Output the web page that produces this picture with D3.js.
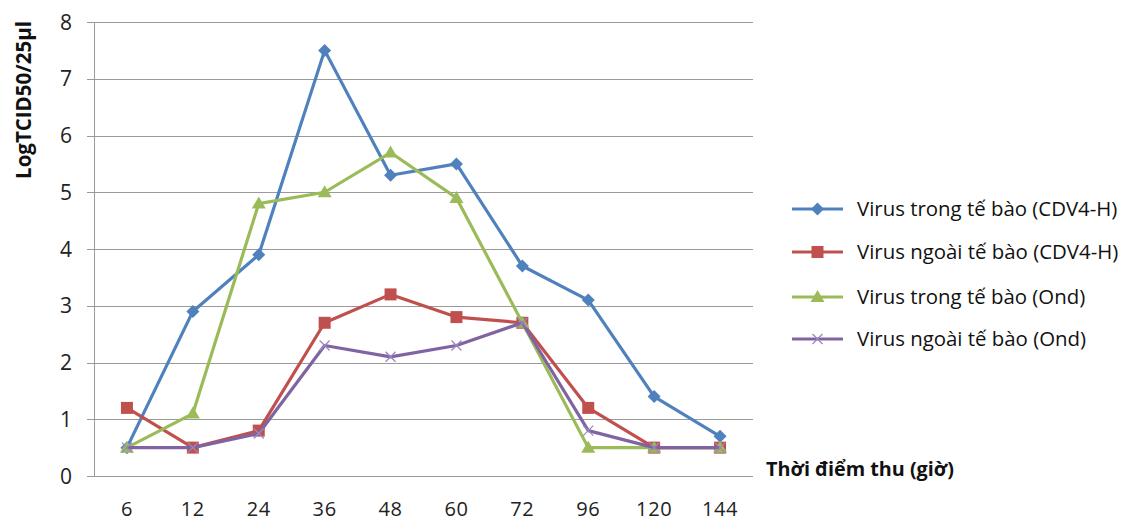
<!DOCTYPE html>
<html><head><meta charset="utf-8">
<script src="https://cdn.jsdelivr.net/npm/d3@7"></script>
<style>body{margin:0;background:#fff;} svg{display:block;}</style>
</head><body>
<svg id="chart" width="1122" height="522"></svg>
<script>
const categories = ["6","12","24","36","48","60","72","96","120","144"];
const seriesNames = ["Virus trong tế bào (CDV4-H)","Virus ngoài tế bào (CDV4-H)","Virus trong tế bào (Ond)","Virus ngoài tế bào (Ond)"];
const blueValues = [0.5,2.9,3.9,7.5,5.3,5.5,3.7,3.1,1.4,0.7];
const redValues = [1.2,0.5,0.8,2.7,3.2,2.8,2.7,1.2,0.5,0.5];
const greenValues = [0.5,1.1,4.8,5.0,5.7,4.9,2.7,0.5,0.5,0.5];
const purpleValues = [0.5,0.5,0.75,2.3,2.1,2.3,2.7,0.8,0.5,0.5];
const yTicks = [0,1,2,3,4,5,6,7,8];
const yTitle = "LogTCID50/25µl";
const xTitle = "Thời điểm thu (giờ)";

const colors = ["#4F81BD","#C0504D","#9BBB59","#8064A2"];
const symbols = ["diamond","square","triangle","cross"];
const allValues = [blueValues, redValues, greenValues, purpleValues];

const svg = d3.select("#chart");
const L = 94, R = 753, T = 22, B = 476;
const x = d3.scaleBand().domain(categories).range([L, R]);
const y = d3.scaleLinear().domain([0, 8]).range([B, T]);
const font = "'Open Sans', 'Noto Sans', sans-serif";

// gridlines
svg.append("g").selectAll("line").data(yTicks).join("line")
  .attr("x1", L - 7).attr("x2", R)
  .attr("y1", d => Math.round(y(d)) + 0.5).attr("y2", d => Math.round(y(d)) + 0.5)
  .attr("stroke", "#9a9a9a").attr("stroke-width", 1);
// y axis line
svg.append("line").attr("x1", L + 0.5).attr("x2", L + 0.5).attr("y1", T).attr("y2", B)
  .attr("stroke", "#9a9a9a");

// y tick labels
svg.append("g").selectAll("text").data(yTicks).join("text")
  .attr("x", 72).attr("y", d => y(d)).attr("dy", "0.36em")
  .attr("text-anchor", "end").attr("font-family", font).attr("font-size", 21)
  .attr("fill", "#222").text(d => d);

// x tick labels
svg.append("g").selectAll("text").data(categories).join("text")
  .attr("x", d => x(d) + x.bandwidth() / 2).attr("y", 516)
  .attr("text-anchor", "middle").attr("font-family", font).attr("font-size", 20)
  .attr("letter-spacing", 0.6)
  .attr("fill", "#222").text(d => d);

// titles
svg.append("text").attr("transform", "translate(31,100) rotate(-90)")
  .attr("text-anchor", "middle").attr("font-family", font).attr("font-weight", "bold")
  .attr("font-size", 20.5).attr("fill", "#111").text(yTitle);
svg.append("text").attr("x", 766).attr("y", 476)
  .attr("font-family", font).attr("font-weight", "bold")
  .attr("font-size", 19.8).attr("fill", "#111").text(xTitle);

function drawMarker(g, kind, cx, cy, color) {
  if (kind === "diamond") {
    g.append("path").attr("d", `M${cx},${cy-6.5}L${cx+6.5},${cy}L${cx},${cy+6.5}L${cx-6.5},${cy}Z`).attr("fill", color);
  } else if (kind === "square") {
    g.append("rect").attr("x", cx - 6).attr("y", cy - 6).attr("width", 12).attr("height", 12).attr("fill", color);
  } else if (kind === "triangle") {
    g.append("path").attr("d", `M${cx},${cy-7}L${cx+7},${cy+5}L${cx-7},${cy+5}Z`).attr("fill", color);
  } else {
    g.append("path").attr("d", `M${cx-5},${cy-5}L${cx+5},${cy+5}M${cx-5},${cy+5}L${cx+5},${cy-5}`)
      .attr("stroke", "#9b87c0").attr("stroke-width", 1.3).attr("fill", "none");
  }
}

const line = d3.line().x((d, i) => x(categories[i]) + x.bandwidth() / 2).y(d => y(d));
allValues.forEach((vals, si) => {
  const g = svg.append("g");
  g.append("path").datum(vals).attr("d", line).attr("fill", "none")
    .attr("stroke", colors[si]).attr("stroke-width", 3.2).attr("stroke-linejoin", "round");
  vals.forEach((v, i) => drawMarker(g, symbols[si], x(categories[i]) + x.bandwidth() / 2, y(v), colors[si]));
});

// legend
const legY = [209, 252, 297, 339];
seriesNames.forEach((name, si) => {
  const g = svg.append("g");
  g.append("line").attr("x1", 792).attr("x2", 843).attr("y1", legY[si]).attr("y2", legY[si])
    .attr("stroke", colors[si]).attr("stroke-width", 3.2);
  drawMarker(g, symbols[si], 817.5, legY[si], colors[si]);
  g.append("text").attr("x", 857).attr("y", legY[si]).attr("dy", "0.36em")
    .attr("font-family", font).attr("font-size", 20.4).attr("fill", "#111").text(name);
});
</script>
</body></html>
